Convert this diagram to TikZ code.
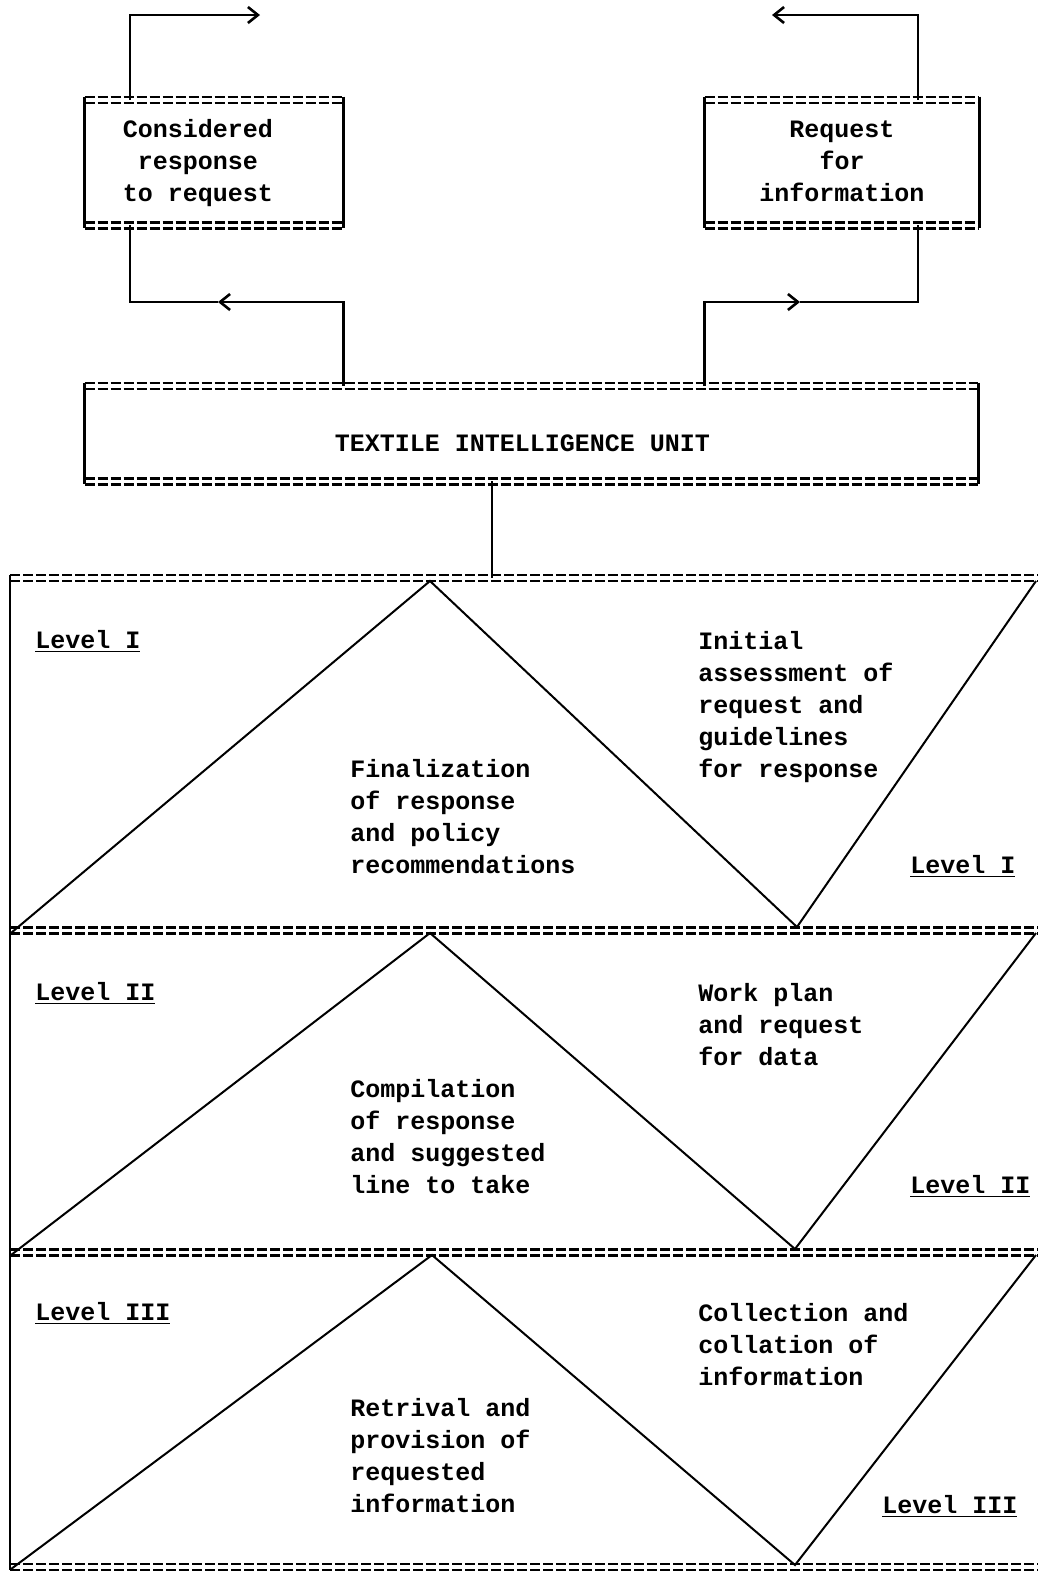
\documentclass[tikz,border=0pt]{standalone}
\usepackage{fontspec}
\newfontfamily\tw{Liberation Mono}
\usetikzlibrary{arrows.meta,positioning,calc}
\tikzset{
	box/.style={draw=none,inner sep=0},
	boxtext/.style={inner sep=0,align=center,font=\tw\bfseries\fontsize{12.5}{16}\selectfont},
	band/.style={draw=none,inner sep=0,anchor=north west,minimum width=514pt},
	txt/.style={inner sep=0,anchor=north west,align=left,font=\tw\bfseries\fontsize{12.5}{16}\selectfont},
	lvl/.style={inner sep=0,anchor=base west,font=\tw\bfseries\fontsize{12.5}{16}\selectfont},
	side/.style={line width=1.2pt},
	rule/.style={line width=1.1pt,dash pattern=on 5pt off 1.5pt},
	conn/.style={line width=1.3pt},
	dirconn/.style={-{Straight Barb[length=5pt,width=8pt]},line width=1.3pt},
	zig/.style={line width=1pt}
}

\begin{document}
\begin{tikzpicture}[x=0.5pt,y=-0.5pt]
	\useasboundingbox (0,0) rectangle (1038,1571);

	\node [box, minimum width=129pt, minimum height=62.5pt,
		label={[boxtext,xshift=-8pt,yshift=-0.5pt]center:{Considered\\response\\to request}}] (resp) at (214,162.5) {};
	\node [box, minimum width=137pt, minimum height=62.5pt,
		label={[boxtext,yshift=0.5pt]center:{Request\\for\\information}}] (req) at (842,162.5) {};
	\node [box, minimum width=446.5pt, minimum height=47.5pt,
		label={[boxtext,xshift=-4.5pt,yshift=-5pt]center:{TEXTILE INTELLIGENCE UNIT}}] (tiu) at (531.5,433.5) {};

	\node [band, minimum height=176pt] (levI) at (10,578) {};
	\node [band, minimum height=161pt] (levII) at (10,930) {};
	\node [band, minimum height=157pt] (levIII) at (10,1252) {};

	% double dashed rims
	\foreach \b in {resp,req,tiu,levI,levII,levIII} {
		\draw [rule] ([yshift=1.5pt]\b.north west) -- ([yshift=1.5pt]\b.north east);
		\draw [rule] ([yshift=-1.5pt]\b.north west) -- ([yshift=-1.5pt]\b.north east);
		\draw [rule] ([yshift=1.5pt]\b.south west) -- ([yshift=1.5pt]\b.south east);
		\draw [rule] ([yshift=-1.5pt]\b.south west) -- ([yshift=-1.5pt]\b.south east);
		\draw [side] ([yshift=1.5pt]\b.north west) -- ([yshift=-1.5pt]\b.south west);
	}
	\foreach \b in {resp,req,tiu}
		\draw [side] ([yshift=1.5pt]\b.north east) -- ([yshift=-1.5pt]\b.south east);

	\coordinate (outR) at (260,15);
	\coordinate (outL) at (772,15);
	\coordinate (midL) at (218,302);
	\coordinate (midR) at (800,302);

	\draw [dirconn] ([xshift=-42pt]resp.north) |- (outR);
	\draw [dirconn] ([xshift=38pt]req.north) |- (outL);
	\draw [dirconn] (tiu.north -| resp.east) |- (midL);
	\draw [conn] (midL) -| ([xshift=-42pt]resp.south);
	\draw [dirconn] (tiu.north -| req.west) |- (midR);
	\draw [conn] (midR) -| ([xshift=38pt]req.south);
	\draw [conn] (tiu.south -| 492,0) -- (levI.north -| 492,0);

	% zigzags
	\draw [zig] ([yshift=-1.5pt]levI.south west) -- (430,581) -- (797,927) -- (1036,581);
	\draw [zig] ([yshift=-1.5pt]levII.south west) -- (430,933) -- (795,1249) -- (1036,933);
	\draw [zig] ([yshift=-1.5pt]levIII.south west) -- (432,1255) -- (795,1565) -- (1036,1255);

	\node [lvl] (l1a) at (35,648) {\underline{Level I}};
	\node [lvl] (l1b) at (910,873) {\underline{Level I}};
	\node [lvl] (l2a) at (35,1000) {\underline{Level II}};
	\node [lvl] (l2b) at (910,1193) {\underline{Level II}};
	\node [lvl] (l3a) at (35,1320) {\underline{Level III}};
	\node [lvl] (l3b) at (882,1513) {\underline{Level III}};

	\node [txt] (init) at (698,631) {Initial\\assessment of\\request and\\guidelines\\for response};
	\node [txt] (fin) at (350,759) {Finalization\\of response\\and policy\\recommendations};
	\node [txt] (work) at (698,983) {Work plan\\and request\\for data};
	\node [txt] (comp) at (350,1079) {Compilation\\of response\\and suggested\\line to take};
	\node [txt] (coll) at (698,1303) {Collection and\\collation of\\information};
	\node [txt] (retr) at (350,1398) {Retrival and\\provision of\\requested\\information};
\end{tikzpicture}
\end{document}
